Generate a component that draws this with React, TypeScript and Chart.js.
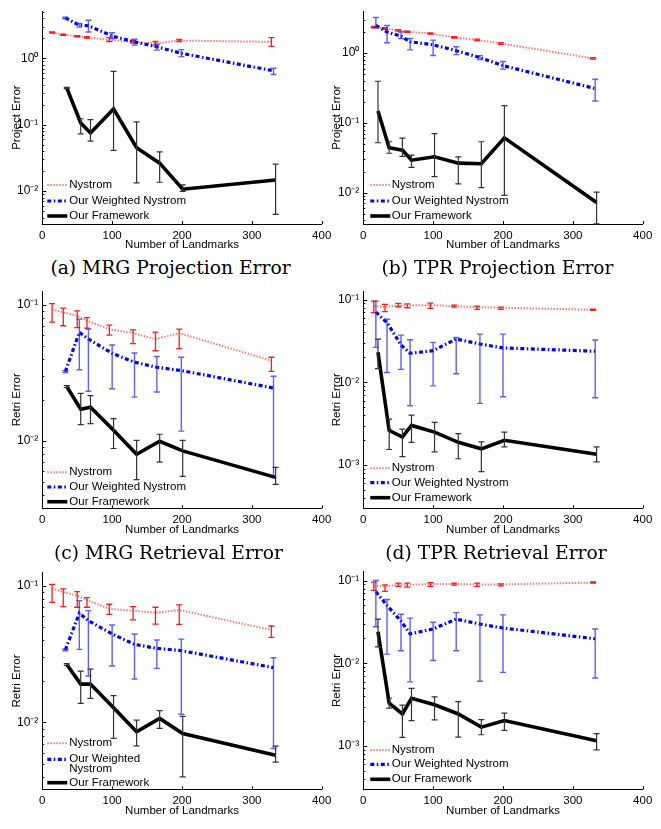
import React, { useEffect, useRef } from "react";
import { Chart, registerables } from "chart.js";
Chart.register(...registerables);

// ---------- shared x positions (number of landmarks, slightly offset per series) ----------
const nysXL = [14, 30, 50, 64, 96, 130, 162, 196, 328];
const wtdXL = [33, 53, 66, 100, 132, 164, 199, 331];
const fwkXL = [35, 55, 69, 102, 135, 168, 201, 334];
const nysXR = [15, 31, 50, 63, 96, 130, 163, 197, 329];
const wtdXR = [18, 34, 54, 67, 100, 133, 167, 200, 332];
const fwkXR = [21, 37, 56, 69, 102, 136, 169, 202, 334];

const seriesNames = ["Nystrom", "Our Weighted Nystrom", "Our Framework"];
const xTitle = "Number of Landmarks";
const captions = ["(a) MRG Projection Error", "(b) TPR Projection Error", "(c) MRG Retrieval Error", "(d) TPR Retrieval Error"];

const projTicks = [0.01, 0.1, 1];
const retrTicksMRG = [0.01, 0.1];
const retrTicksTPR = [0.001, 0.01, 0.1];

// ---------- (a) MRG projection ----------
const aNysY = [2.45, 2.27, 2.15, 2.07, 1.89, 1.77, 1.67, 1.85, 1.77];
const aNysLo = [2.40, 2.22, 2.10, 2.02, 1.79, 1.70, 1.54, 1.79, 1.51];
const aNysHi = [2.50, 2.32, 2.20, 2.12, 2.05, 1.84, 1.79, 1.92, 2.05];
const aWtdY = [4.06, 3.16, 3.09, 2.17, 1.77, 1.49, 1.19, 0.648];
const aWtdLo = [3.95, 2.95, 2.49, 1.98, 1.58, 1.33, 1.06, 0.57];
const aWtdHi = [4.15, 3.35, 3.75, 2.43, 1.94, 1.63, 1.35, 0.71];
const aFwkY = [0.358, 0.106, 0.0752, 0.173, 0.045, 0.0264, 0.0107, 0.0147];
const aFwkLo = [0.35, 0.0727, 0.0565, 0.0411, 0.0133, 0.0136, 0.0099, 0.00446];
const aFwkHi = [0.365, 0.123, 0.119, 0.634, 0.11, 0.039, 0.0124, 0.0255];

// ---------- (b) TPR projection ----------
const bNysY = [2.35, 2.25, 2.11, 2.02, 1.90, 1.68, 1.54, 1.37, 0.84];
const bNysLo = [2.30, 2.19, 2.06, 1.98, 1.86, 1.64, 1.50, 1.33, 0.82];
const bNysHi = [2.40, 2.31, 2.16, 2.06, 1.94, 1.72, 1.58, 1.41, 0.86];
const bWtdY = [2.48, 2.0, 1.74, 1.45, 1.31, 1.08, 0.86, 0.66, 0.31];
const bWtdLo = [2.30, 1.40, 1.61, 1.11, 0.92, 0.947, 0.805, 0.588, 0.206];
const bWtdHi = [3.22, 2.48, 2.0, 1.61, 1.53, 1.23, 0.917, 0.755, 0.42];
const bFwkY = [0.148, 0.0441, 0.0405, 0.0292, 0.0326, 0.0265, 0.026, 0.061, 0.00722];
const bFwkLo = [0.0519, 0.0367, 0.033, 0.023, 0.017, 0.0134, 0.0118, 0.00917, 0.00357];
const bFwkHi = [0.394, 0.0536, 0.0604, 0.0344, 0.0703, 0.0326, 0.0536, 0.177, 0.0102];

// ---------- (c) MRG retrieval ----------
const cNysY = [0.093, 0.0879, 0.0831, 0.0764, 0.0664, 0.062, 0.0561, 0.062, 0.0389];
const cNysLo = [0.0747, 0.0702, 0.068, 0.0675, 0.060, 0.0519, 0.046, 0.0477, 0.0325];
const cNysHi = [0.102, 0.0946, 0.0903, 0.0807, 0.071, 0.0656, 0.063, 0.0664, 0.0412];
const cWtdY = [0.0323, 0.0628, 0.0561, 0.044, 0.0379, 0.0348, 0.0329, 0.0245];
const cWtdLo = [0.0318, 0.0334, 0.0232, 0.0242, 0.021, 0.0229, 0.0118, 0.0054];
const cWtdHi = [0.0328, 0.0786, 0.0664, 0.0507, 0.0443, 0.0417, 0.0412, 0.0299];
const cFwkY = [0.0251, 0.0171, 0.0177, 0.012, 0.00798, 0.00995, 0.00845, 0.0054];
const cFwkLo = [0.0247, 0.0132, 0.0134, 0.0088, 0.0052, 0.007, 0.0055, 0.0048];
const cFwkHi = [0.0255, 0.0224, 0.0215, 0.0146, 0.0101, 0.0112, 0.0101, 0.0064];

// ---------- (d) TPR retrieval ----------
const dNysY = [0.0832, 0.081, 0.0856, 0.0848, 0.0856, 0.0832, 0.081, 0.0795, 0.0752];
const dNysLo = [0.0693, 0.0713, 0.0817, 0.0795, 0.078, 0.081, 0.076, 0.076, 0.0739];
const dNysHi = [0.0955, 0.0872, 0.0896, 0.0888, 0.0904, 0.0856, 0.0832, 0.081, 0.0766];
const dWtdY = [0.0705, 0.0525, 0.0282, 0.0224, 0.0241, 0.0333, 0.029, 0.026, 0.0237];
const dWtdLo = [0.0264, 0.0131, 0.0143, 0.0052, 0.00904, 0.0127, 0.00556, 0.00668, 0.0065];
const dWtdHi = [0.0955, 0.0577, 0.0371, 0.0327, 0.0303, 0.0348, 0.0382, 0.0382, 0.0324];
const dFwkY = [0.0231, 0.00262, 0.00218, 0.00301, 0.0025, 0.00188, 0.00157, 0.00199, 0.00135];
const dFwkLo = [0.0146, 0.00154, 0.00126, 0.00188, 0.00144, 0.00119, 0.00083, 0.00166, 0.00109];
const dFwkHi = [0.0333, 0.00358, 0.00272, 0.004, 0.00327, 0.00239, 0.0019, 0.0025, 0.00166];

// ---------- (e) MRG retrieval (second) ----------
const eNysY = [0.0961, 0.0899, 0.085, 0.0789, 0.0678, 0.0659, 0.0637, 0.0667, 0.0476];
const eNysLo = [0.0759, 0.0706, 0.0698, 0.0698, 0.062, 0.0564, 0.0526, 0.0523, 0.042];
const eNysHi = [0.1028, 0.0951, 0.0909, 0.0821, 0.0734, 0.0706, 0.0698, 0.0726, 0.0509];
const eWtdY = [0.034, 0.0631, 0.0557, 0.0445, 0.0373, 0.0349, 0.0336, 0.0252];
const eWtdLo = [0.0335, 0.0343, 0.0219, 0.0259, 0.0208, 0.0249, 0.0115, 0.00644];
const eWtdHi = [0.0345, 0.078, 0.0659, 0.0518, 0.0445, 0.0402, 0.0408, 0.0298];
const eFwkY = [0.0266, 0.0191, 0.0191, 0.0128, 0.00855, 0.0107, 0.0083, 0.00575];
const eFwkLo = [0.0262, 0.0138, 0.015, 0.00764, 0.00675, 0.00904, 0.004, 0.00512];
const eFwkHi = [0.027, 0.0238, 0.0246, 0.0157, 0.0104, 0.0122, 0.0111, 0.0067];

// ---------- (f) TPR retrieval (second) ----------
const fNysY = [0.0865, 0.0849, 0.0888, 0.0888, 0.0905, 0.0913, 0.0897, 0.0897, 0.0947];
const fNysLo = [0.076, 0.0741, 0.0849, 0.0834, 0.0849, 0.088, 0.0849, 0.0865, 0.093];
const fNysHi = [0.0955, 0.0888, 0.093, 0.093, 0.0947, 0.093, 0.093, 0.0913, 0.0965];
const fWtdY = [0.0734, 0.050, 0.0323, 0.0227, 0.026, 0.0342, 0.0298, 0.0267, 0.0198];
const fWtdLo = [0.0277, 0.0129, 0.0142, 0.00596, 0.0108, 0.0142, 0.00607, 0.00776, 0.00664];
const fWtdHi = [0.1, 0.059, 0.0392, 0.0352, 0.0313, 0.041, 0.0385, 0.0385, 0.026];
const fFwkY = [0.0241, 0.0033, 0.00244, 0.00378, 0.00315, 0.00244, 0.00169, 0.00203, 0.00116];
const fFwkLo = [0.0158, 0.00287, 0.00127, 0.00203, 0.00207, 0.00128, 0.00137, 0.00155, 0.000897];
const fFwkHi = [0.0342, 0.00378, 0.00312, 0.00497, 0.00392, 0.00345, 0.00209, 0.0025, 0.00141];

// ---------- panels ----------
const SANS = '"Liberation Sans", Arial, Helvetica, sans-serif';
const FS = 11.5;

type Panel = {
  series: number[][][];
  yMin: number; yMax: number; yTicks: number[]; yTitle: string;
  left: number; top: number; width: number;
  chartTop: number; chartBottom: number; chartRight: number; yAxisW: number; yTitlePad: number;
  legendRows: number[]; sample0: number; sample1: number; textX: number; wrap: boolean;
};

const L = { left: 0, width: 340, chartRight: 321.7, yAxisW: 42.3, yTitlePad: 9.8, sample0: 5, sample1: 25, textX: 27 };
const R = { left: 330, width: 331, chartRight: 642.7, yAxisW: 33.3, yTitlePad: 0.4, sample0: 7, sample1: 27, textX: 28.5 };

const panels: Panel[] = [
  { ...L, series: [[nysXL, aNysY, aNysLo, aNysHi], [wtdXL, aWtdY, aWtdLo, aWtdHi], [fwkXL, aFwkY, aFwkLo, aFwkHi]],
    yMin: 0.0032, yMax: 5.12, yTicks: projTicks, yTitle: "Project Error", top: 0, chartTop: 8.3, chartBottom: 224,
    legendRows: [-39, -23, -8], wrap: false },
  { ...R, series: [[nysXR, bNysY, bNysLo, bNysHi], [wtdXR, bWtdY, bWtdLo, bWtdHi], [fwkXR, bFwkY, bFwkLo, bFwkHi]],
    yMin: 0.00356, yMax: 3.97, yTicks: projTicks, yTitle: "Project Error", top: 0, chartTop: 8.3, chartBottom: 224,
    legendRows: [-39, -23, -8], wrap: false },
  { ...L, series: [[nysXL, cNysY, cNysLo, cNysHi], [wtdXL, cWtdY, cWtdLo, cWtdHi], [fwkXL, cFwkY, cFwkLo, cFwkHi]],
    yMin: 0.0032, yMax: 0.126, yTicks: retrTicksMRG, yTitle: "Retri Error", top: 280, chartTop: 290, chartBottom: 508.3,
    legendRows: [-36, -21.3, -6.6], wrap: false },
  { ...R, series: [[nysXR, dNysY, dNysLo, dNysHi], [wtdXR, dWtdY, dWtdLo, dWtdHi], [fwkXR, dFwkY, dFwkLo, dFwkHi]],
    yMin: 0.00031, yMax: 0.126, yTicks: retrTicksTPR, yTitle: "Retri Error", top: 280, chartTop: 290, chartBottom: 508.3,
    legendRows: [-40, -25.6, -10.6], wrap: false },
  { ...L, series: [[nysXL, eNysY, eNysLo, eNysHi], [wtdXL, eWtdY, eWtdLo, eWtdHi], [fwkXL, eFwkY, eFwkLo, eFwkHi]],
    yMin: 0.00324, yMax: 0.125, yTicks: retrTicksMRG, yTitle: "Retri Error", top: 560, chartTop: 572.7, chartBottom: 789.3,
    legendRows: [-46, -30, -6.6], wrap: true },
  { ...R, series: [[nysXR, fNysY, fNysLo, fNysHi], [wtdXR, fWtdY, fWtdLo, fWtdHi], [fwkXR, fFwkY, fFwkLo, fFwkHi]],
    yMin: 0.000336, yMax: 0.128, yTicks: retrTicksTPR, yTitle: "Retri Error", top: 560, chartTop: 571.7, chartBottom: 789.3,
    legendRows: [-39.3, -25, -10], wrap: false },
];

const captionPos = [
  { cx: 170.5, cy: 268 }, { cx: 497.5, cy: 268 }, { cx: 168.5, cy: 553 }, { cx: 496, cy: 553 },
];

const styles = [
  { color: "#ff7a7a", width: 2, dash: [1.5, 1.5], errColor: "#ff1a1a", errWidth: 1.3 },
  { color: "#0000ff", width: 3.2, dash: [4, 2.5, 1.5, 2.5], errColor: "rgba(40,40,255,0.75)", errWidth: 1.4 },
  { color: "#000000", width: 3.6, dash: [], errColor: "#333333", errWidth: 1.2 },
];

const SUP: Record<string, string> = { "-": "⁻", "0": "⁰", "1": "¹", "2": "²", "3": "³", "4": "⁴" };
const fmtPow = (v: number) => "10" + String(Math.round(Math.log10(v))).split("").map((c) => SUP[c]).join("");

const errBarPlugin = {
  id: "errBars",
  afterDatasetDraw(chart: any, args: any) {
    const ds = chart.data.datasets[args.index];
    if (!ds.errLo) return;
    const { ctx, scales } = chart;
    ctx.save();
    ctx.strokeStyle = ds.errColor;
    ctx.lineWidth = ds.errWidth;
    ctx.setLineDash([]);
    ds.data.forEach((pt: any, i: number) => {
      const px = scales.x.getPixelForValue(pt.x);
      const pLo = scales.y.getPixelForValue(ds.errLo[i]);
      const pHi = scales.y.getPixelForValue(ds.errHi[i]);
      ctx.beginPath();
      ctx.moveTo(px, pLo); ctx.lineTo(px, pHi);
      ctx.moveTo(px - 3, pLo); ctx.lineTo(px + 3, pLo);
      ctx.moveTo(px - 3, pHi); ctx.lineTo(px + 3, pHi);
      ctx.stroke();
    });
    ctx.restore();
  },
};

const tickPlugin = {
  id: "inTicks",
  afterDraw(chart: any) {
    const { ctx, chartArea, scales } = chart;
    const xs = scales.x, ys = scales.y;
    ctx.save();
    ctx.strokeStyle = "#000";
    ctx.lineWidth = 1;
    ctx.beginPath();
    xs.ticks.forEach((t: any) => {
      const px = Math.round(xs.getPixelForValue(t.value)) + 0.5;
      ctx.moveTo(px, chartArea.bottom); ctx.lineTo(px, chartArea.bottom - 3);
    });
    const k0 = Math.floor(Math.log10(ys.min)), k1 = Math.ceil(Math.log10(ys.max));
    for (let k = k0; k <= k1; k++) {
      for (let m = 1; m <= 9; m++) {
        const v = m * Math.pow(10, k);
        if (v < ys.min || v > ys.max) continue;
        const py = Math.round(ys.getPixelForValue(v)) + 0.5;
        ctx.moveTo(chartArea.left, py); ctx.lineTo(chartArea.left + (m === 1 ? 4 : 2), py);
      }
    }
    ctx.stroke();
    ctx.restore();
  },
};

const legendPlugin = {
  id: "miniLegend",
  afterDraw(chart: any, _args: any, opts: any) {
    const { ctx, chartArea } = chart;
    ctx.save();
    ctx.font = `${FS}px ${SANS}`;
    ctx.fillStyle = "#000";
    ctx.textBaseline = "middle";
    ctx.textAlign = "left";
    chart.data.datasets.forEach((ds: any, i: number) => {
      const y = chartArea.bottom + opts.rows[i];
      ctx.save();
      ctx.strokeStyle = ds.borderColor;
      ctx.lineWidth = ds.borderWidth;
      ctx.setLineDash(ds.borderDash || []);
      ctx.beginPath();
      ctx.moveTo(chartArea.left + opts.sample0, y);
      ctx.lineTo(chartArea.left + opts.sample1, y);
      ctx.stroke();
      ctx.restore();
      const tx = chartArea.left + opts.textX;
      if (opts.wrap && i === 1) {
        const parts = ds.label.split(" ");
        ctx.fillText(parts.slice(0, 2).join(" "), tx, y);
        ctx.fillText(parts.slice(2).join(" "), tx, y + 9.7);
      } else {
        ctx.fillText(ds.label, tx, y);
      }
    });
    ctx.restore();
  },
};

function PanelChart({ p }: { p: Panel }) {
  const ref = useRef<HTMLCanvasElement>(null);
  const h = Math.ceil(p.chartBottom - p.top + 28);
  const xAxisH = h - (p.chartBottom - p.top);
  useEffect(() => {
    if (!ref.current) return;
    const datasets = p.series.map((s, i) => ({
      label: seriesNames[i],
      data: s[0].map((x, j) => ({ x, y: s[1][j] })),
      borderColor: styles[i].color,
      borderWidth: styles[i].width,
      borderDash: styles[i].dash,
      pointRadius: 0,
      fill: false,
      tension: 0,
      order: 3 - i,
      errLo: s[2],
      errHi: s[3],
      errColor: styles[i].errColor,
      errWidth: styles[i].errWidth,
    }));
    const chart = new Chart(ref.current, {
      type: "line",
      data: { datasets } as any,
      options: {
        responsive: false,
        animation: false,
        devicePixelRatio: 1,
        layout: {
          autoPadding: false,
          padding: { left: 0, top: p.chartTop - p.top, right: p.width - (p.chartRight - p.left), bottom: 0 },
        },
        plugins: {
          legend: { display: false },
          tooltip: { enabled: false },
          miniLegend: { rows: p.legendRows, sample0: p.sample0, sample1: p.sample1, textX: p.textX, wrap: p.wrap },
        } as any,
        scales: {
          x: {
            type: "linear", min: 0, max: 400, position: "bottom",
            ticks: { stepSize: 100, padding: 5, color: "#000", font: { family: SANS, size: FS }, maxRotation: 0, autoSkip: false },
            grid: { display: false, drawTicks: false },
            border: { display: true, color: "#000", width: 1 },
            title: { display: true, text: xTitle, color: "#000", font: { family: SANS, size: FS }, padding: { top: 0, bottom: 0 } },
            afterFit: (s: any) => { s.height = xAxisH; },
          },
          y: {
            type: "logarithmic", min: p.yMin, max: p.yMax, position: "left",
            afterBuildTicks: (s: any) => { s.ticks = p.yTicks.map((v) => ({ value: v, major: true })); },
            ticks: { padding: 4, color: "#000", font: { family: SANS, size: 12 }, autoSkip: false, callback: (v: any) => fmtPow(Number(v)) },
            grid: { display: false, drawTicks: false },
            border: { display: true, color: "#000", width: 1 },
            title: { display: true, text: p.yTitle, color: "#000", font: { family: SANS, size: FS }, padding: { top: p.yTitlePad, bottom: 0 } },
            afterFit: (s: any) => { s.width = p.yAxisW; },
          },
        } as any,
      },
      plugins: [errBarPlugin, tickPlugin, legendPlugin],
    } as any);
    return () => chart.destroy();
  }, []);
  return (
    <div style={{ position: "absolute", left: p.left, top: p.top, width: p.width, height: h }}>
      <canvas ref={ref} width={p.width} height={h} style={{ display: "block", width: p.width, height: h }} />
    </div>
  );
}

export default function App() {
  return (
    <div style={{ position: "absolute", left: 0, top: 0, width: 661, height: 829, background: "#fff", overflow: "hidden" }}>
      {panels.map((p, i) => <PanelChart key={i} p={p} />)}
      {captions.map((c, i) => (
        <div key={"c" + i} style={{
          position: "absolute", left: captionPos[i].cx - 160, top: captionPos[i].cy - 12, width: 320, height: 24,
          lineHeight: "24px", textAlign: "center", fontFamily: '"DejaVu Serif", serif', fontSize: 18.7, color: "#000",
          whiteSpace: "nowrap",
        }}>{c}</div>
      ))}
    </div>
  );
}
